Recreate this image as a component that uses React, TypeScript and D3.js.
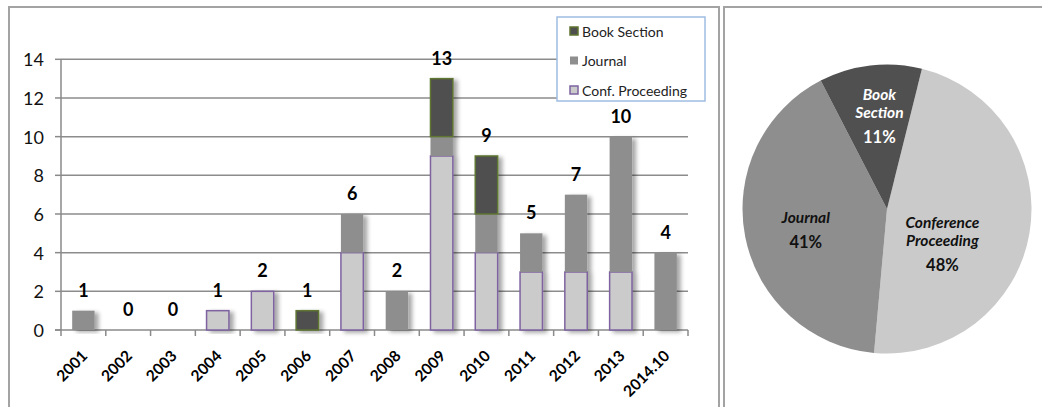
import React from 'react';
import * as d3 from 'd3';

// publications per year, by type
const years = ['2001', '2002', '2003', '2004', '2005', '2006', '2007', '2008', '2009', '2010', '2011', '2012', '2013', '2014.10'];
const confProceeding = [0, 0, 0, 1, 2, 0, 4, 0, 9, 4, 3, 3, 3, 0];
const journal = [1, 0, 0, 0, 0, 0, 2, 2, 1, 2, 2, 4, 7, 4];
const bookSection = [0, 0, 0, 0, 0, 1, 0, 0, 3, 3, 0, 0, 0, 0];
const yTicks = [0, 2, 4, 6, 8, 10, 12, 14];

const seriesKeys = ['conf', 'journal', 'book'];
const seriesNames = ['Conf. Proceeding', 'Journal', 'Book Section'];
const seriesFill = ['#cbcbcb', '#8e8e8e', '#4f4f4f'];
const seriesStroke = ['#7e63a0', 'none', '#5e7431'];

// pie: same totals, drawn clockwise from the conference slice
const pieNames = [['Conference', 'Proceeding'], ['Journal'], ['Book', 'Section']];
const pieFill = ['#cacaca', '#8e8e8e', '#505050'];
const pieText = ['#111', '#111', '#fff'];
const labelRadius = [0.45, 0.58, 0.65];
const labelShift = [22, -3, 2];

const FONT = "Lato, 'Open Sans', sans-serif";

export default function App() {
  const table = years.map((year, i) => ({
    year,
    conf: confProceeding[i],
    journal: journal[i],
    book: bookSection[i],
  }));
  const stacked = d3.stack<any>().keys(seriesKeys)(table);
  const totals = table.map(d => d.conf + d.journal + d.book);

  const x = d3.scaleBand().domain(years).range([61, 688]).paddingInner(0.5).paddingOuter(0.25);
  const y = d3.scaleLinear().domain([0, 14]).range([330, 59.3]);
  const step = x.step();

  const typeTotals = [d3.sum(confProceeding), d3.sum(journal), d3.sum(bookSection)];
  const grand = d3.sum(typeTotals);
  const start = (14 * Math.PI) / 180;
  const pie = d3.pie<number>().sort(null).startAngle(start).endAngle(start + 2 * Math.PI)(typeTotals);
  const R = 144.5;
  const cx = 887, cy = 209;
  const arc = d3.arc<any>().innerRadius(0).outerRadius(R);

  return (
    <div style={{ position: 'absolute', left: 0, top: 0 }}>
      <svg width={1042} height={407} style={{ display: 'block', fontFamily: FONT }}>
        <defs>
          <filter id="shadow" x="-30%" y="-10%" width="170%" height="130%">
            <feDropShadow dx="4" dy="2" stdDeviation="2" floodColor="#000" floodOpacity="0.35" />
          </filter>
        </defs>
        <rect x={0} y={0} width={1042} height={407} fill="#fff" />

        {/* panel frames */}
        <rect x={9} y={7} width={710} height={430} fill="none" stroke="#a3a3a3" strokeWidth={2} />
        <rect x={724} y={7} width={340} height={430} fill="none" stroke="#a3a3a3" strokeWidth={2} />

        {/* gridlines */}
        {yTicks.filter(t => t > 0).map(t => (
          <line key={t} x1={61} x2={688} y1={y(t)} y2={y(t)} stroke="#8c8c8c" strokeWidth={1.5} />
        ))}

        {/* axes */}
        <line x1={61} x2={61} y1={y(14)} y2={y(0)} stroke="#8a8a8a" strokeWidth={1.5} />
        {yTicks.map(t => (
          <g key={t}>
            <line x1={55} x2={61} y1={y(t)} y2={y(t)} stroke="#8a8a8a" strokeWidth={1.5} />
            <text x={44} y={y(t)} textAnchor="end" dominantBaseline="central" fontSize={18} fill="#111">{t}</text>
          </g>
        ))}
        <line x1={55} x2={688} y1={y(0)} y2={y(0)} stroke="#8a8a8a" strokeWidth={1.5} />
        {d3.range(years.length + 1).map(k => (
          <line key={k} x1={61 + k * step} x2={61 + k * step} y1={y(0)} y2={y(0) + 6} stroke="#8a8a8a" strokeWidth={1.5} />
        ))}

        {/* stacked bars */}
        {years.map((year, i) => (
          <g key={year} filter="url(#shadow)">
            {stacked.map((s, k) => {
              const [y0, y1] = s[i];
              if (y1 - y0 <= 0) return null;
              return (
                <rect
                  key={k}
                  x={x(year)}
                  y={y(y1)}
                  width={x.bandwidth()}
                  height={y(y0) - y(y1)}
                  fill={seriesFill[k]}
                  stroke={seriesStroke[k]}
                  strokeWidth={1.5}
                />
              );
            })}
          </g>
        ))}

        {/* totals */}
        {years.map((year, i) => (
          <text key={year} x={(x(year) as number) + x.bandwidth() / 2} y={y(totals[i]) - 14}
            textAnchor="middle" fontSize={18} fontWeight="bold" fill="#000">{totals[i]}</text>
        ))}

        {/* year labels */}
        {years.map(year => {
          const px = (x(year) as number) + x.bandwidth() / 2 + 5;
          const py = y(0) + 27;
          return (
            <text key={year} x={px} y={py} transform={`rotate(-45 ${px} ${py})`} textAnchor="end"
              fontSize={15.5} fontWeight="bold" fill="#000">{year}</text>
          );
        })}

        {/* legend */}
        <rect x={557} y={17} width={148} height={84} fill="#fff" stroke="#9fbde2" strokeWidth={1.5} />
        {[2, 1, 0].map((k, row) => {
          const ry = 31 + row * 29.5;
          return (
            <g key={k}>
              <rect x={570} y={ry - 4} width={8} height={8} fill={seriesFill[k]}
                stroke={seriesStroke[k]} strokeWidth={1.5} />
              <text x={582} y={ry} dominantBaseline="central" fontSize={14} fill="#222">{seriesNames[k]}</text>
            </g>
          );
        })}

        {/* pie */}
        <g transform={`translate(${cx},${cy})`}>
          {pie.map((p, k) => (
            <path key={k} d={arc(p) as string} fill={pieFill[k]} />
          ))}
          {pie.map((p, k) => {
            const mid = (p.startAngle + p.endAngle) / 2 + (labelShift[k] * Math.PI) / 180;
            const r = R * labelRadius[k];
            const lx = Math.sin(mid) * r;
            const ly = -Math.cos(mid) * r;
            const lines = pieNames[k];
            const blockH = (lines.length - 1) * 18 + 25;
            const top = ly - blockH / 2;
            const pct = Math.round((typeTotals[k] / grand) * 100);
            return (
              <g key={k} fill={pieText[k]} fontSize={15.5} fontWeight="bold" textAnchor="middle">
                {lines.map((ln, j) => (
                  <text key={j} x={lx} y={top + j * 18} dominantBaseline="central" fontStyle="italic">{ln}</text>
                ))}
                <text x={lx} y={top + blockH} dominantBaseline="central" fontSize={16.5}>{pct}%</text>
              </g>
            );
          })}
        </g>
      </svg>
    </div>
  );
}
